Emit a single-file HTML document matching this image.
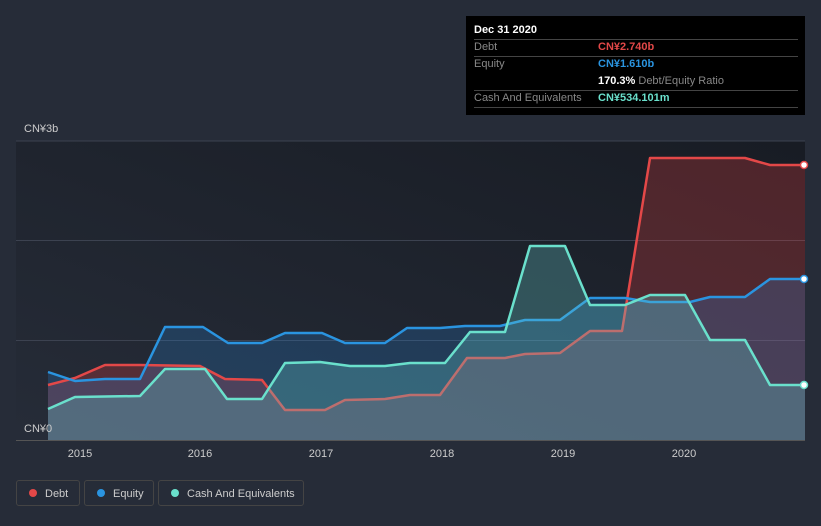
<!DOCTYPE html>
<html><head><meta charset="utf-8"><style>
body{margin:0;width:821px;height:526px;background:#262c38;font-family:"Liberation Sans",sans-serif;overflow:hidden;position:relative}
.tt{position:absolute;left:466px;top:16px;width:339px;height:99px;background:#000;font-size:11px;color:#888}
.tt .r{position:absolute;left:8px;width:324px;border-bottom:1px solid #444;height:17px;line-height:16px}
.v{position:absolute;left:124px;font-weight:bold}
.leg{position:absolute;top:480px;height:26px;border:1px solid #444;border-radius:3px;color:#ccc;font-size:11px;line-height:26px;box-sizing:border-box}
.leg i{display:inline-block;width:8px;height:8px;border-radius:50%;margin:0 8px 0 12px}
</style></head><body>
<svg width="821" height="526" style="position:absolute;left:0;top:0">
<defs><linearGradient id="bg" x1="0" x2="1" y1="1" y2="0"><stop offset="0" stop-color="#262c38"/><stop offset="1" stop-color="#181c24"/></linearGradient></defs>
<rect x="16" y="141" width="789" height="299" fill="url(#bg)"/>
<g stroke="#3c4250" stroke-width="1"><line x1="16" x2="805" y1="141" y2="141"/><line x1="16" x2="805" y1="240.5" y2="240.5"/><line x1="16" x2="805" y1="340.5" y2="340.5"/><line x1="16" x2="805" y1="440.5" y2="440.5" stroke="#555"/></g>
<polygon fill="rgba(220,60,60,0.28)" points="48,440 48,385 75,378 105,365 140,365 200,366 225,379 262,380 285,410 325,410 345,400 385,399 410,395 440,395 467,358 505,358 525,354 560,353 590,331 622,331 650,158 700,158 745,158 770,165 805,165 805,440"/>
<polygon fill="rgba(40,140,230,0.22)" points="48,440 48,372 75,381 105,379 140,379 165,327 203,327 228,343 262,343 285,333 322,333 345,343 385,343 407,328 440,328 465,326 500,326 525,320 560,320 590,298 625,298 650,302 690,302 710,297 745,297 770,279 805,279 805,440"/>
<g fill="none" stroke-width="2.5" stroke-linejoin="round">
<polyline stroke="#e34848" points="48,385 75,378 105,365 140,365 200,366 225,379 262,380 285,410 325,410 345,400 385,399 410,395 440,395 467,358 505,358 525,354 560,353 590,331 622,331 650,158 700,158 745,158 770,165 805,165"/>
<polyline stroke="#2a94e0" points="48,372 75,381 105,379 140,379 165,327 203,327 228,343 262,343 285,333 322,333 345,343 385,343 407,328 440,328 465,326 500,326 525,320 560,320 590,298 625,298 650,302 690,302 710,297 745,297 770,279 805,279"/>
</g>
<polygon fill="rgba(100,200,200,0.3)" points="48,440 48,409 75,397 140,396 165,369 205,369 227,399 262,399 285,363 320,362 350,366 385,366 410,363 445,363 470,332 505,332 530,246 565,246 590,305 625,305 650,295 685,295 710,340 745,340 770,385 805,385 805,440"/>
<polyline fill="none" stroke-width="2.5" stroke-linejoin="round" stroke="#6ae0cc" points="48,409 75,397 140,396 165,369 205,369 227,399 262,399 285,363 320,362 350,366 385,366 410,363 445,363 470,332 505,332 530,246 565,246 590,305 625,305 650,295 685,295 710,340 745,340 770,385 805,385"/>
<circle cx="804" cy="165" r="3.5" fill="#fff" stroke="#e34848" stroke-width="1.5"/>
<circle cx="804" cy="279" r="3.5" fill="#fff" stroke="#2a94e0" stroke-width="1.5"/>
<circle cx="804" cy="385" r="3.5" fill="#fff" stroke="#6ae0cc" stroke-width="1.5"/>
<g fill="#ccc" font-size="11" font-family="Liberation Sans" text-anchor="middle">
<text x="80" y="457">2015</text><text x="200" y="457">2016</text><text x="321" y="457">2017</text><text x="442" y="457">2018</text><text x="563" y="457">2019</text><text x="684" y="457">2020</text>
<text x="24" y="132" text-anchor="start">CN¥3b</text><text x="24" y="432" text-anchor="start">CN¥0</text>
</g>
</svg>
<div class="tt">
<div class="r" style="top:6px;color:#fff;font-weight:bold">Dec 31 2020</div>
<div class="r" style="top:23px">Debt<span class="v" style="color:#e34848">CN¥2.740b</span></div>
<div class="r" style="top:40px;border:none">Equity<span class="v" style="color:#2a94e0">CN¥1.610b</span></div>
<div class="r" style="top:57px"><span class="v" style="color:#fff">170.3% <span style="color:#888;font-weight:normal">Debt/Equity Ratio</span></span></div>
<div class="r" style="top:74px">Cash And Equivalents<span class="v" style="color:#6ae0cc">CN¥534.101m</span></div>
</div>
<div class="leg" style="left:16px;width:64px"><i style="background:#e34848"></i>Debt</div>
<div class="leg" style="left:84px;width:70px"><i style="background:#2a94e0"></i>Equity</div>
<div class="leg" style="left:158px;width:146px"><i style="background:#6ae0cc"></i>Cash And Equivalents</div>
</body></html>
